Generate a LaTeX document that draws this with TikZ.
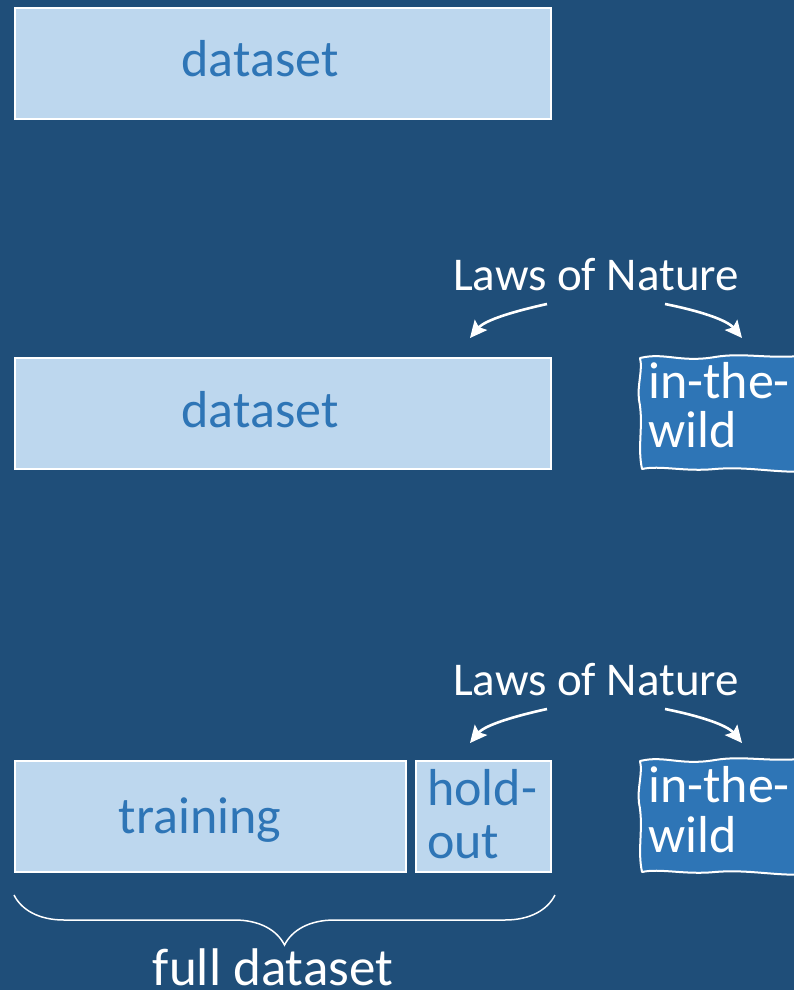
\documentclass[tikz,border=0pt]{standalone}
\usepackage{fontspec}
\setmainfont{Carlito}
\usetikzlibrary{arrows.meta,decorations.pathreplacing}
\definecolor{bg}{HTML}{1F4E79}
\definecolor{boxfill}{HTML}{BDD7EE}
\definecolor{boxtext}{HTML}{2E75B6}
\definecolor{wildfill}{HTML}{2E75B6}
\begin{document}
\begin{tikzpicture}[x=1pt,y=-1pt,
  databox/.style={draw=white, line width=2pt, fill=boxfill, anchor=north west, inner sep=0pt},
  boxlabel/.style={anchor=base, text=boxtext, inner sep=0pt, font=\fontsize{52}{50}\selectfont},
  holdlabel/.style={anchor=base west, text=boxtext, inner sep=0pt, font=\fontsize{52}{50}\selectfont},
  wildlabel/.style={anchor=base west, text=white, inner sep=0pt, font=\fontsize{52}{50}\selectfont},
  lawlabel/.style={anchor=base, text=white, inner sep=0pt, font=\fontsize{47}{50}\selectfont},
  natarrow/.style={draw=white, line width=2.6pt, -{Stealth[length=17pt,width=16pt,inset=3pt]}},
  wild/.style={draw=white, line width=2pt, fill=wildfill, line join=round}]
\fill[bg] (0,0) rectangle (794,990);
\useasboundingbox (0,0) rectangle (794,990);
\clip (0,0) rectangle (794,990);

% ---- row 1
\node[databox, minimum width=536pt, minimum height=111pt] (d1) at (14,7) {};
\node[boxlabel] (t1) at (260,76) {dataset};

% ---- row 2
\node[databox, minimum width=536pt, minimum height=111pt] (d2) at (14,357) {};
\node[boxlabel] (t2) at (260,427) {dataset};
\node[lawlabel] (law1) at (596,290) {Laws of Nature};
\coordinate (a1s) at (547,304);
\coordinate (a1e) at (470,338);
\coordinate (b1s) at (665,304);
\coordinate (b1e) at (742,338);
\draw[natarrow] (a1s) .. controls (515,311) and (485,320) .. (a1e);
\draw[natarrow] (b1s) .. controls (700,311) and (727,320) .. (b1e);
\begin{scope}[shift={(640,355)}]
\draw[wild] (0,3) .. controls (25,-3) and (40,8) .. (75,2) .. controls (105,-3) and (130,5) .. (170,0) -- (170,116) .. controls (140,119) and (110,111) .. (75,114) .. controls (45,117) and (20,110) .. (2,114) .. controls (-3,90) and (4,70) .. (-1,45) .. controls (-3,30) and (3,15) .. (0,3) -- cycle;
\node[wildlabel] (w1a) at (8,43) {in-the-};
\node[wildlabel] (w1b) at (8,92) {wild};
\end{scope}

% ---- row 3
\node[databox, minimum width=391pt, minimum height=111pt] (tr) at (14,760) {};
\node[boxlabel] (t3) at (200,833) {training};
\node[databox, minimum width=135pt, minimum height=111pt] (ho) at (415,760) {};
\node[holdlabel] (h1) at (427,805) {hold-};
\node[holdlabel] (h2) at (427,858) {out};
\node[lawlabel] (law2) at (596,695) {Laws of Nature};
\coordinate (a2s) at (547,709);
\coordinate (a2e) at (470,743);
\coordinate (b2s) at (665,709);
\coordinate (b2e) at (742,743);
\draw[natarrow] (a2s) .. controls (515,716) and (485,725) .. (a2e);
\draw[natarrow] (b2s) .. controls (700,716) and (727,725) .. (b2e);
\begin{scope}[shift={(640,758)}]
\draw[wild] (0,3) .. controls (25,-3) and (40,8) .. (75,2) .. controls (105,-3) and (130,5) .. (170,0) -- (170,116) .. controls (140,119) and (110,111) .. (75,114) .. controls (45,117) and (20,110) .. (2,114) .. controls (-3,90) and (4,70) .. (-1,45) .. controls (-3,30) and (3,15) .. (0,3) -- cycle;
\node[wildlabel] (w2a) at (8,44) {in-the-};
\node[wildlabel] (w2b) at (8,94) {wild};
\end{scope}

% ---- brace
\coordinate (bl) at (14,895);
\coordinate (br) at (555,895);
\draw[white, line width=1.5pt, decorate, decoration={brace, amplitude=50pt}] (br) -- (bl);
\node[anchor=base, text=white, inner sep=0pt, font=\fontsize{53}{50}\selectfont] (full) at (273,985) {full dataset};
\end{tikzpicture}
\end{document}
